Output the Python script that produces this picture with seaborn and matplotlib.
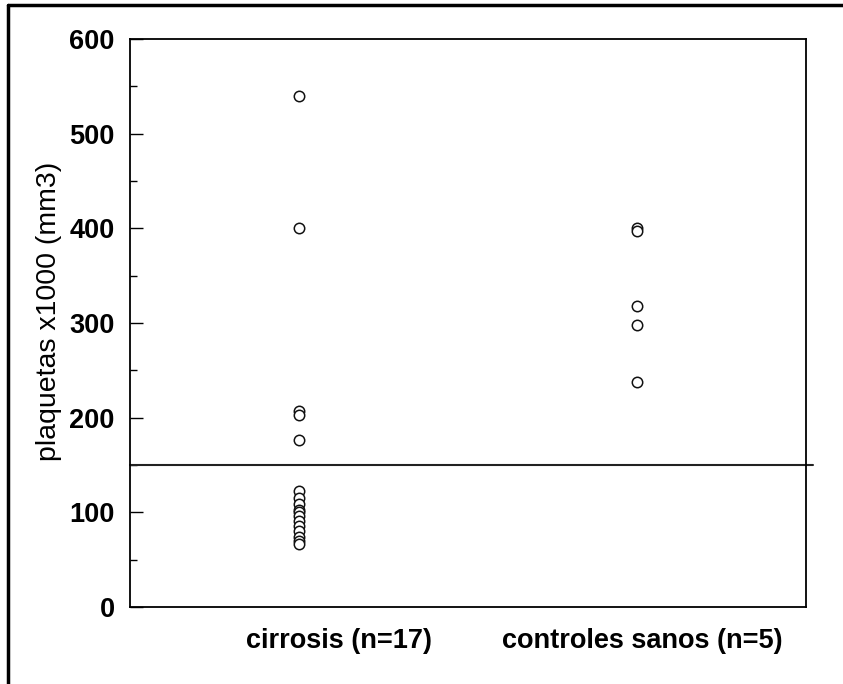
import matplotlib
matplotlib.use('Agg')
import matplotlib.pyplot as plt
from matplotlib.lines import Line2D
from matplotlib.ticker import MultipleLocator
import seaborn as sns
import pandas as pd

# Valores (plaquetas x1000 / mm3)
cirrosis = [540, 400, 207, 203, 176, 122, 115, 109, 102, 100, 96, 91, 86, 80, 74, 70, 67]
controles = [400, 397, 318, 298, 238]
grupos = ['cirrosis (n=17)', 'controles sanos (n=5)']
umbral = 150

df = pd.DataFrame({
    'grupo': [grupos[0]] * len(cirrosis) + [grupos[1]] * len(controles),
    'plaquetas': cirrosis + controles,
})

sns.set_style('white')
plt.rcParams['font.family'] = ['Liberation Sans', 'DejaVu Sans']
plt.rcParams['text.color'] = 'black'
plt.rcParams['axes.labelcolor'] = 'black'
plt.rcParams['xtick.color'] = 'black'
plt.rcParams['ytick.color'] = 'black'

fig = plt.figure(figsize=(8.43, 6.84), dpi=100)
ax = fig.add_axes([0.154, 0.1126, 0.802, 0.8304])

sns.stripplot(data=df, x='grupo', y='plaquetas', order=grupos, jitter=False,
              color='white', edgecolor='#111111', linewidth=1.1, size=7.5, ax=ax, zorder=3)

# linea de referencia
ax.axhline(umbral, xmin=0, xmax=1.01, color='#222222', lw=1.5, clip_on=False, zorder=2)

ax.set_xlim(-0.5, 1.5)
ax.set_ylim(0, 600)
ax.yaxis.set_major_locator(MultipleLocator(100))
ax.yaxis.set_minor_locator(MultipleLocator(50))
ax.tick_params(axis='y', which='major', direction='in', length=9, width=1, pad=11,
               left=True, labelsize=19.5)
ax.tick_params(axis='y', which='minor', direction='in', length=5, width=1, left=True)
for lab in ax.get_yticklabels():
    lab.set_fontweight('bold')

ax.set_xticks([0.12, 1.015])
ax.set_xticklabels(grupos, fontsize=19.5, fontweight='bold')
ax.tick_params(axis='x', length=0, pad=15)

ax.set_xlabel('')
ax.set_ylabel('plaquetas x1000 (mm3)', fontsize=20.5)
ax.yaxis.set_label_coords(-0.1, 0.52)

for sp in ax.spines.values():
    sp.set_visible(True)
    sp.set_color('black')
    sp.set_linewidth(1.3)

# marco de la pagina escaneada
fig.add_artist(Line2D([0.010, 0.010], [0.0, 0.993], transform=fig.transFigure,
                      color='black', lw=2.5))
fig.add_artist(Line2D([0.010, 1.0], [0.993, 0.993], transform=fig.transFigure,
                      color='black', lw=2.5))

fig.savefig('out.png', dpi=100)
